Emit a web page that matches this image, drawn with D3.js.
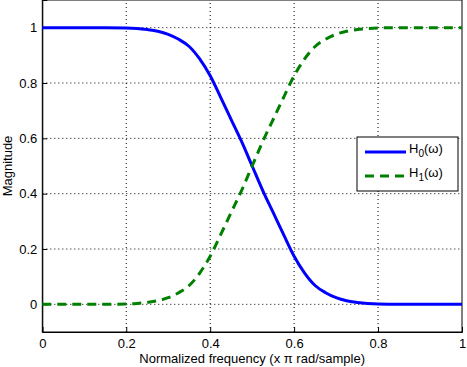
<!DOCTYPE html>
<html>
<head>
<meta charset="utf-8">
<script src="https://cdn.jsdelivr.net/npm/d3@7"></script>
<style>
  html, body { margin: 0; padding: 0; background: #fff; }
  svg { display: block; font-family: "Liberation Sans", Arial, sans-serif; }
</style>
</head>
<body>
<div id="chart"></div>
<script>
/* Complementary lowpass / highpass magnitude responses, MATLAB-style */

const freq = [0, 0.05, 0.1, 0.15, 0.2, 0.225, 0.25, 0.275, 0.3, 0.325, 0.35, 0.375, 0.4, 0.425,
  0.45, 0.475, 0.5, 0.525, 0.55, 0.575, 0.6, 0.625, 0.65, 0.675, 0.7, 0.725, 0.75, 0.8, 0.85, 0.9, 0.95, 1];
const h0 = [1, 1, 1, 1, 0.999, 0.997, 0.993, 0.987, 0.976, 0.958, 0.932, 0.887, 0.826, 0.748,
  0.668, 0.588, 0.5, 0.412, 0.332, 0.252, 0.174, 0.113, 0.068, 0.042, 0.024, 0.013, 0.007, 0.001, 0, 0, 0, 0];
const h1 = [0, 0, 0, 0, 0.001, 0.003, 0.007, 0.013, 0.024, 0.042, 0.068, 0.113, 0.174, 0.252,
  0.332, 0.412, 0.5, 0.588, 0.668, 0.748, 0.826, 0.887, 0.932, 0.958, 0.976, 0.987, 0.993, 0.999, 1, 1, 1, 1];
const xTicks = [0, 0.2, 0.4, 0.6, 0.8, 1];
const yTicks = [0, 0.2, 0.4, 0.6, 0.8, 1];
const seriesNames = ["0", "1"];

const width = 467, height = 367;
const margin = { top: 0, right: 5, bottom: 35, left: 42.3 };

const svg = d3.select("#chart").append("svg")
  .attr("width", width)
  .attr("height", height);

const x = d3.scaleLinear().domain([0, 1]).range([margin.left, width - margin.right]);
const y = d3.scaleLinear().domain([-0.1, 1.1]).range([height - margin.bottom, margin.top]);

const plotW = x(1) - x(0);
const plotH = y(-0.1) - y(1.1);

// Grid (dotted)
svg.append("g")
  .selectAll("line")
  .data(xTicks.slice(1, -1))
  .join("line")
  .attr("x1", d => x(d)).attr("x2", d => x(d))
  .attr("y1", y(-0.1)).attr("y2", y(1.1))
  .attr("stroke", "#000").attr("stroke-width", 1)
  .attr("stroke-dasharray", "1,3");

svg.append("g")
  .selectAll("line")
  .data(yTicks)
  .join("line")
  .attr("x1", x(0)).attr("x2", x(1))
  .attr("y1", d => y(d)).attr("y2", d => y(d))
  .attr("stroke", "#000").attr("stroke-width", 1)
  .attr("stroke-dasharray", "1,3");

// Axes (MATLAB ticks point inward)
svg.append("g")
  .attr("transform", `translate(0,${y(-0.1)})`)
  .call(d3.axisBottom(x).tickValues(xTicks).tickSize(-5).tickPadding(7)
    .tickFormat(d3.format("~g")))
  .call(g => g.selectAll("text").attr("font-size", 13).attr("fill", "#000"))
  .call(g => g.selectAll("line").attr("stroke", "#000"))
  .call(g => g.select(".domain").attr("stroke", "#000"));

svg.append("g")
  .attr("transform", `translate(${x(0)},0)`)
  .call(d3.axisLeft(y).tickValues(yTicks).tickSize(-5).tickPadding(5)
    .tickFormat(d3.format("~g")))
  .call(g => g.selectAll("text").attr("font-size", 13).attr("fill", "#000"))
  .call(g => g.selectAll("line").attr("stroke", "#000"))
  .call(g => g.select(".domain").attr("stroke", "#000"));

// Right / top box
svg.append("rect")
  .attr("x", x(0)).attr("y", y(1.1))
  .attr("width", plotW).attr("height", plotH)
  .attr("fill", "none").attr("stroke", "#000").attr("stroke-width", 1);

// Curves
const line = d3.line()
  .x((d, i) => x(freq[i]))
  .y(d => y(d))
  .curve(d3.curveMonotoneX);

svg.append("path")
  .datum(h0)
  .attr("d", line)
  .attr("fill", "none")
  .attr("stroke", "#0000ff")
  .attr("stroke-width", 3);

svg.append("path")
  .datum(h1)
  .attr("d", line)
  .attr("fill", "none")
  .attr("stroke", "#008000")
  .attr("stroke-width", 3)
  .attr("stroke-dasharray", "9,6");

// Legend
const lg = svg.append("g").attr("transform", "translate(357,137)");
lg.append("rect")
  .attr("width", 101).attr("height", 54)
  .attr("fill", "#fff").attr("stroke", "#000").attr("stroke-width", 1);

const styles = [
  { color: "#0000ff", dash: null },
  { color: "#008000", dash: "9,6" }
];
seriesNames.forEach((s, i) => {
  const yy = 15 + i * 24;
  lg.append("line")
    .attr("x1", 8).attr("x2", 49)
    .attr("y1", yy).attr("y2", yy)
    .attr("stroke", styles[i].color)
    .attr("stroke-width", 3)
    .attr("stroke-dasharray", styles[i].dash);
  const t = lg.append("text")
    .attr("x", 52).attr("y", yy + 1)
    .attr("font-size", 13);
  t.append("tspan").text("H");
  t.append("tspan").attr("dy", 4).attr("font-size", 10).text(s);
  t.append("tspan").attr("dy", -4).text("(ω)");
});

// Labels
svg.append("text")
  .attr("x", (x(0) + x(1)) / 2)
  .attr("y", 363)
  .attr("text-anchor", "middle")
  .attr("font-size", 13)
  .text("Normalized frequency (x π rad/sample)");

svg.append("text")
  .attr("transform", `translate(12,${(y(-0.1) + y(1.1)) / 2}) rotate(-90)`)
  .attr("text-anchor", "middle")
  .attr("font-size", 13)
  .text("Magnitude");
</script>
</body>
</html>
